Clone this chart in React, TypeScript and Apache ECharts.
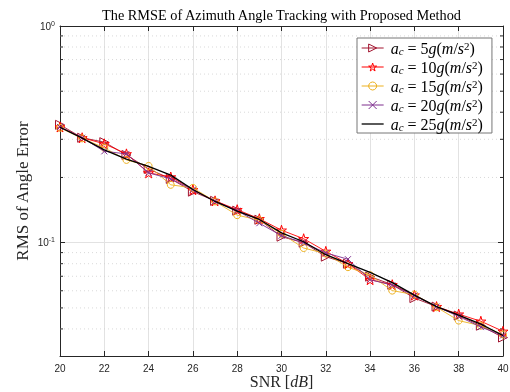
import React, { useEffect, useRef } from 'react';
import * as echarts from 'echarts';

const snr = [20, 21, 22, 23, 24, 25, 26, 27, 28, 29, 30, 31, 32, 33, 34, 35, 36, 37, 38, 39, 40];
const accelLabels = ['5', '10', '15', '20', '25'];
const rms5 = [0.350, 0.305, 0.291, 0.254, 0.219, 0.197, 0.172, 0.156, 0.1405, 0.1276, 0.1066, 0.100, 0.0862, 0.080, 0.0697, 0.064, 0.0555, 0.0507, 0.0461, 0.0414, 0.0365];
const rms10 = [0.342, 0.305, 0.286, 0.257, 0.210, 0.201, 0.1755, 0.156, 0.142, 0.129, 0.1142, 0.1043, 0.0912, 0.080, 0.0675, 0.064, 0.0573, 0.0507, 0.0468, 0.0434, 0.0390];
const rms15 = [0.339, 0.303, 0.274, 0.241, 0.226, 0.185, 0.179, 0.155, 0.134, 0.127, 0.110, 0.0945, 0.089, 0.0771, 0.0708, 0.0601, 0.0576, 0.0504, 0.0437, 0.0414, 0.0377];
const rms20 = [0.342, 0.305, 0.264, 0.257, 0.210, 0.197, 0.1755, 0.155, 0.1405, 0.123, 0.1077, 0.100, 0.0897, 0.0839, 0.0675, 0.0637, 0.057, 0.0507, 0.0457, 0.0408, 0.0373];
const rms25 = [0.341, 0.304, 0.268, 0.243, 0.225, 0.205, 0.176, 0.155, 0.140, 0.128, 0.111, 0.101, 0.088, 0.080, 0.073, 0.0654, 0.0573, 0.0507, 0.0463, 0.0421, 0.0373];
const minorYTicks = [0.04, 0.05, 0.06, 0.07, 0.08, 0.09, 0.2, 0.3, 0.4, 0.5, 0.6, 0.7, 0.8, 0.9];

const AX = '#262626';
const SERIF = '"Liberation Serif", "Times New Roman", serif';
const SANS = '"Liberation Sans", Arial, Helvetica, sans-serif';
const STAR = 'path://M50,0 L61,35 L98,35 L68,57 L79,91 L50,70 L21,91 L32,57 L2,35 L39,35 Z';
const CROSS = 'path://M0,0 L10,10 M10,0 L0,10';

export default function App() {
  const ref = useRef<HTMLDivElement>(null);
  useEffect(() => {
    const chart = echarts.init(ref.current!, null, { renderer: 'svg' });
    const mk = (arr: number[]) => snr.map((x, i) => [x, arr[i]]);
    const seriesDefs = [
      { data: rms5, color: '#A2142F', symbol: 'triangle', size: 9, rotate: -90 },
      { data: rms10, color: '#FF0000', symbol: STAR, size: 10, rotate: 0 },
      { data: rms15, color: '#EDB120', symbol: 'circle', size: 7, rotate: 0 },
      { data: rms20, color: '#7E2F8E', symbol: CROSS, size: 6, rotate: 0 },
      { data: rms25, color: '#000000', symbol: 'none', size: 0, rotate: 0 },
    ];
    const lineSeries = seriesDefs.map((d, i) => ({
      type: 'line',
      name: accelLabels[i],
      data: mk(d.data),
      symbol: d.symbol,
      symbolSize: d.size,
      symbolRotate: d.rotate,
      showSymbol: d.symbol !== 'none',
      lineStyle: { color: d.color, width: i === 4 ? 1.3 : 0.9 },
      itemStyle: {
        color: 'transparent',
        borderColor: d.symbol === 'none' ? 'transparent' : d.color,
        borderWidth: 1,
      },
      z: 3 + i,
    }));
    const legendData = seriesDefs.map((d, i) => ({
      name: accelLabels[i],
      itemStyle: {
        color: 'transparent',
        borderColor: d.symbol === 'none' ? 'transparent' : d.color,
        borderWidth: 1,
      },
      lineStyle: { color: d.color, width: i === 4 ? 1.3 : 1 },
    }));
    const isPow = (v: number) => {
      const l = Math.log10(v);
      return Math.abs(l - Math.round(l)) < 1e-6;
    };
    const option: any = {
      animation: false,
      graphic: [
        {
          type: 'text',
          x: 281.5,
          y: 15,
          style: {
            text: 'The RMSE of Azimuth Angle Tracking with Proposed Method',
            fontFamily: SERIF,
            fontSize: 14.3,
            fill: '#000',
            textAlign: 'center',
            textVerticalAlign: 'middle',
          },
        },
      ],
      grid: { left: 60, top: 26, right: 7, bottom: 36, containLabel: false, outerBoundsMode: 'none' },
      legend: {
        orient: 'vertical',
        left: 357,
        top: 38,
        align: 'left',
        padding: [2, 9, 1, 4],
        itemGap: 3,
        itemWidth: 22,
        itemHeight: 10,
        backgroundColor: '#fff',
        borderColor: '#777',
        borderWidth: 1,
        borderRadius: 0,
        data: legendData,
        formatter: (name: string) =>
          `{it|a}{sub|c}{rm| = ${name}}{it|g}{rm|(}{it|m}{rm|/}{it|s}{sup|2}{rm|)}`,
        textStyle: {
          lineHeight: 16,
          padding: [0, 0, 0, 2],
          rich: {
            it: { fontFamily: SERIF, fontStyle: 'italic', fontSize: 16, color: '#000', lineHeight: 16 },
            rm: { fontFamily: SERIF, fontSize: 16, color: '#000', lineHeight: 16 },
            sub: { fontFamily: SERIF, fontStyle: 'italic', fontSize: 11, color: '#000', verticalAlign: 'bottom', lineHeight: 16 },
            sup: { fontFamily: SERIF, fontSize: 11, color: '#000', verticalAlign: 'top', lineHeight: 16 },
          },
        },
      },
      xAxis: [
        {
          type: 'value',
          min: 20,
          max: 40,
          interval: 2,
          name: 'SNR [{it|dB}]',
          nameLocation: 'middle',
          nameGap: 17,
          nameMoveOverlap: false,
          nameTextStyle: {
            fontFamily: SERIF,
            fontSize: 16,
            color: AX,
            rich: { it: { fontFamily: SERIF, fontStyle: 'italic', fontSize: 16, color: AX } },
          },
          axisLine: { lineStyle: { color: AX, width: 1 } },
          axisTick: { inside: true, length: 5, lineStyle: { color: AX } },
          axisLabel: { color: AX, fontFamily: SANS, fontSize: 10, margin: 7 },
          splitLine: { show: true, lineStyle: { color: '#e2e2e2', width: 1 } },
        },
        {
          type: 'value',
          position: 'top',
          min: 20,
          max: 40,
          interval: 2,
          axisLine: { lineStyle: { color: AX, width: 1 } },
          axisTick: { inside: true, length: 5, lineStyle: { color: AX } },
          axisLabel: { show: false },
          splitLine: { show: false },
        },
      ],
      yAxis: [
        {
          type: 'log',
          logBase: 10,
          min: 0.03,
          max: 1,
          name: 'RMS of Angle Error',
          nameLocation: 'middle',
          nameGap: 29,
          nameMoveOverlap: false,
          nameTextStyle: { fontFamily: SERIF, fontSize: 17, color: AX },
          axisLine: { lineStyle: { color: AX, width: 1 } },
          axisTick: { inside: true, length: 5, lineStyle: { color: AX } },
          axisLabel: {
            showMinLabel: false,
            margin: 5,
            formatter: (v: number) => (isPow(v) ? `{b|10}{s|${Math.round(Math.log10(v))}}` : ''),
            rich: {
              b: { fontFamily: SANS, fontSize: 10, color: AX },
              s: { fontFamily: SANS, fontSize: 7, color: AX, verticalAlign: 'top', padding: [0, 0, 6, 0] },
            },
          },
          splitLine: { show: true, lineStyle: { color: '#e2e2e2', width: 1 } },
        },
        {
          type: 'log',
          logBase: 10,
          min: 0.03,
          max: 1,
          position: 'right',
          axisLine: { lineStyle: { color: AX, width: 1 } },
          axisTick: { inside: true, length: 5, lineStyle: { color: AX } },
          axisLabel: { show: false },
          splitLine: { show: false },
        },
      ],
      series: [
        {
          type: 'custom',
          name: 'minor',
          coordinateSystem: 'cartesian2d',
          xAxisIndex: 0,
          yAxisIndex: 0,
          silent: true,
          z: 1,
          data: minorYTicks.map((v) => [20, v]),
          encode: { x: 0, y: 1 },
          renderItem: (params: any, api: any) => {
            const v = api.value(1);
            const l = api.coord([20, v]);
            const r = api.coord([40, v]);
            return {
              type: 'group',
              children: [
                { type: 'line', shape: { x1: l[0], y1: l[1], x2: r[0], y2: r[1] }, style: { stroke: '#cfcfcf', lineWidth: 0.8, lineDash: [1, 3] } },
                { type: 'line', shape: { x1: l[0], y1: l[1], x2: l[0] + 3, y2: l[1] }, style: { stroke: AX, lineWidth: 1 } },
                { type: 'line', shape: { x1: r[0] - 3, y1: r[1], x2: r[0], y2: r[1] }, style: { stroke: AX, lineWidth: 1 } },
              ],
            };
          },
        },
        ...lineSeries,
      ],
    };
    chart.setOption(option);
    return () => chart.dispose();
  }, []);
  return <div ref={ref} style={{ position: 'fixed', left: 0, top: 0, width: 510, height: 392 }} />;
}
